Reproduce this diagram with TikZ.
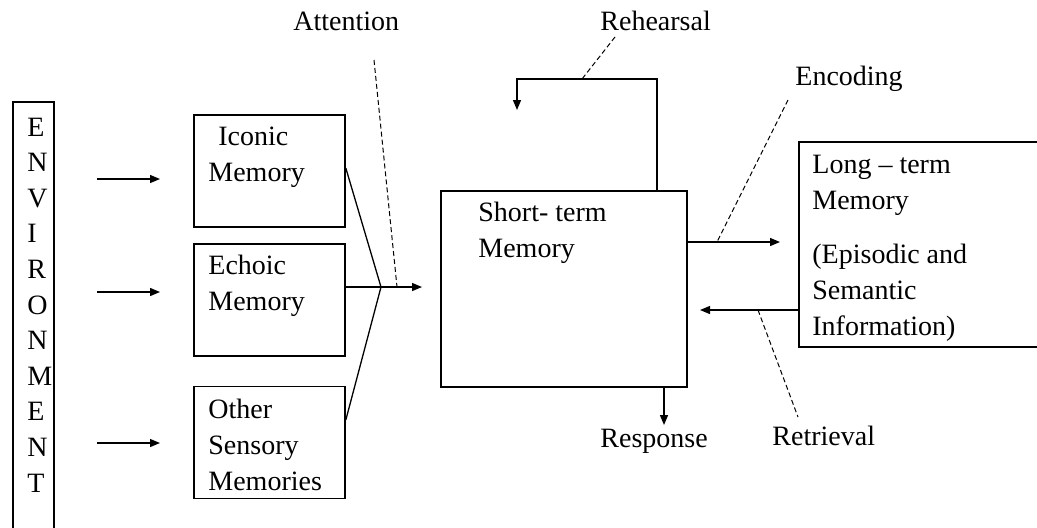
\documentclass[tikz,border=0pt]{standalone}
\usepackage{fontspec}
\setmainfont{Liberation Serif}
\usetikzlibrary{arrows.meta,positioning}

\tikzset{
  box/.style={draw, line width=0.8pt, inner sep=0pt},
  sensory/.style={box, minimum width=75.5pt, minimum height=56pt},
  % base west of a multi-line text is the baseline of its last line
  txt/.style={inner sep=0pt, align=left, anchor=base west,
              font=\fontsize{14pt}{17.8pt}\selectfont},
  flow/.style={->, line width=0.65pt},
  link/.style={line width=0.65pt},
  tag/.style={dash pattern=on 2.5pt off 1.5pt, line width=0.5pt},
}

\begin{document}
\begin{tikzpicture}[x=0.5pt, y=-0.5pt, >={Triangle[length=5pt,width=4pt]}]
  \useasboundingbox (0,0) rectangle (1037,527);
  \clip (0,0) rectangle (1037,527);

  % environment column
  \node[box, minimum width=20.5pt, minimum height=225pt, anchor=north west] (env) at (12,101) {};
  \node[txt] (envTxt) at (27,492) {E\\N\\V\\I\\R\\O\\N\\M\\E\\N\\T};

  % sensory stores
  \node[sensory] (iconic) at (269.5,171)   {};
  \node[sensory] (echoic) at (269.5,300)   {};
  \node[sensory] (other)  at (269.5,442.5) {};
  \node[txt] (iconicTxt) at (208,181) {\hspace*{5pt}Iconic\\Memory};
  \node[txt] (echoicTxt) at (208,310) {Echoic\\Memory};
  \node[txt] (otherTxt)  at (208,490) {Other\\Sensory\\Memories};

  \coordinate (inA) at (97,179);  \coordinate (tipA) at (160,179);
  \coordinate (inB) at (97,292);  \coordinate (tipB) at (160,292);
  \coordinate (inC) at (97,443);  \coordinate (tipC) at (160,443);
  \draw[flow] (inA) -- (tipA);
  \draw[flow] (inB) -- (tipB);
  \draw[flow] (inC) -- (tipC);

  % short-term memory
  \node[box, minimum width=123pt, minimum height=98pt] (stm) at (564,289) {};
  \node[txt] (stmTxt) at (478,257) {Short- term\\Memory};

  \coordinate (join) at (381,287);
  \coordinate (stmIn) at (422,287);
  \draw[link] ([yshift=1.5pt]iconic.east) -- (join) -- ([yshift=11.25pt]other.east);
  \draw[flow] ([yshift=6.5pt]echoic.east) -- (stmIn);

  \node[txt] (attention) at (293,30) {Attention};
  \coordinate (attTop) at (374,60);
  \coordinate (attEnd) at (397,287);
  \draw[tag] (attTop) -- (attEnd);

  % rehearsal loop
  \coordinate (loopR) at (657,79);
  \coordinate (loopL) at (517,79);
  \coordinate (loopTip) at (517,110);
  \draw[flow] (stm.north -| loopR) -- (loopR) -- (loopL) -- (loopTip);
  \node[txt] (rehearsal) at (600,30) {Rehearsal};
  \coordinate (rehTop) at (615,37);
  \coordinate (rehEnd) at (582,79);
  \draw[tag] (rehTop) -- (rehEnd);

  % long-term memory
  \node[box, minimum width=126pt, minimum height=102.5pt, anchor=north west] (ltm) at (798,141) {};
  \node[txt] (ltmTxt) at (812,335) {Long – term\\Memory\\[9.5pt](Episodic and\\Semantic\\Information)};

  \coordinate (encY) at (687,242);
  \coordinate (encTip) at (780,242);
  \draw[flow] (stm.east |- encY) -- (encTip);
  \node[txt] (encoding) at (795,85) {Encoding};
  \coordinate (encTop) at (788,100);
  \coordinate (encEnd) at (717,242);
  \draw[tag] (encTop) -- (encEnd);

  \coordinate (retY) at (798,310);
  \coordinate (retTip) at (700,310);
  \draw[flow] (ltm.west |- retY) -- (retTip);
  \node[txt] (retrieval) at (772,445) {Retrieval};
  \coordinate (retTop) at (758,310);
  \coordinate (retEnd) at (798,417);
  \draw[tag] (retTop) -- (retEnd);

  % response
  \coordinate (resX) at (664,387);
  \coordinate (resTip) at (664,425);
  \draw[flow] (stm.south -| resX) -- (resTip);
  \node[txt] (response) at (600,447) {Response};
\end{tikzpicture}
\end{document}
